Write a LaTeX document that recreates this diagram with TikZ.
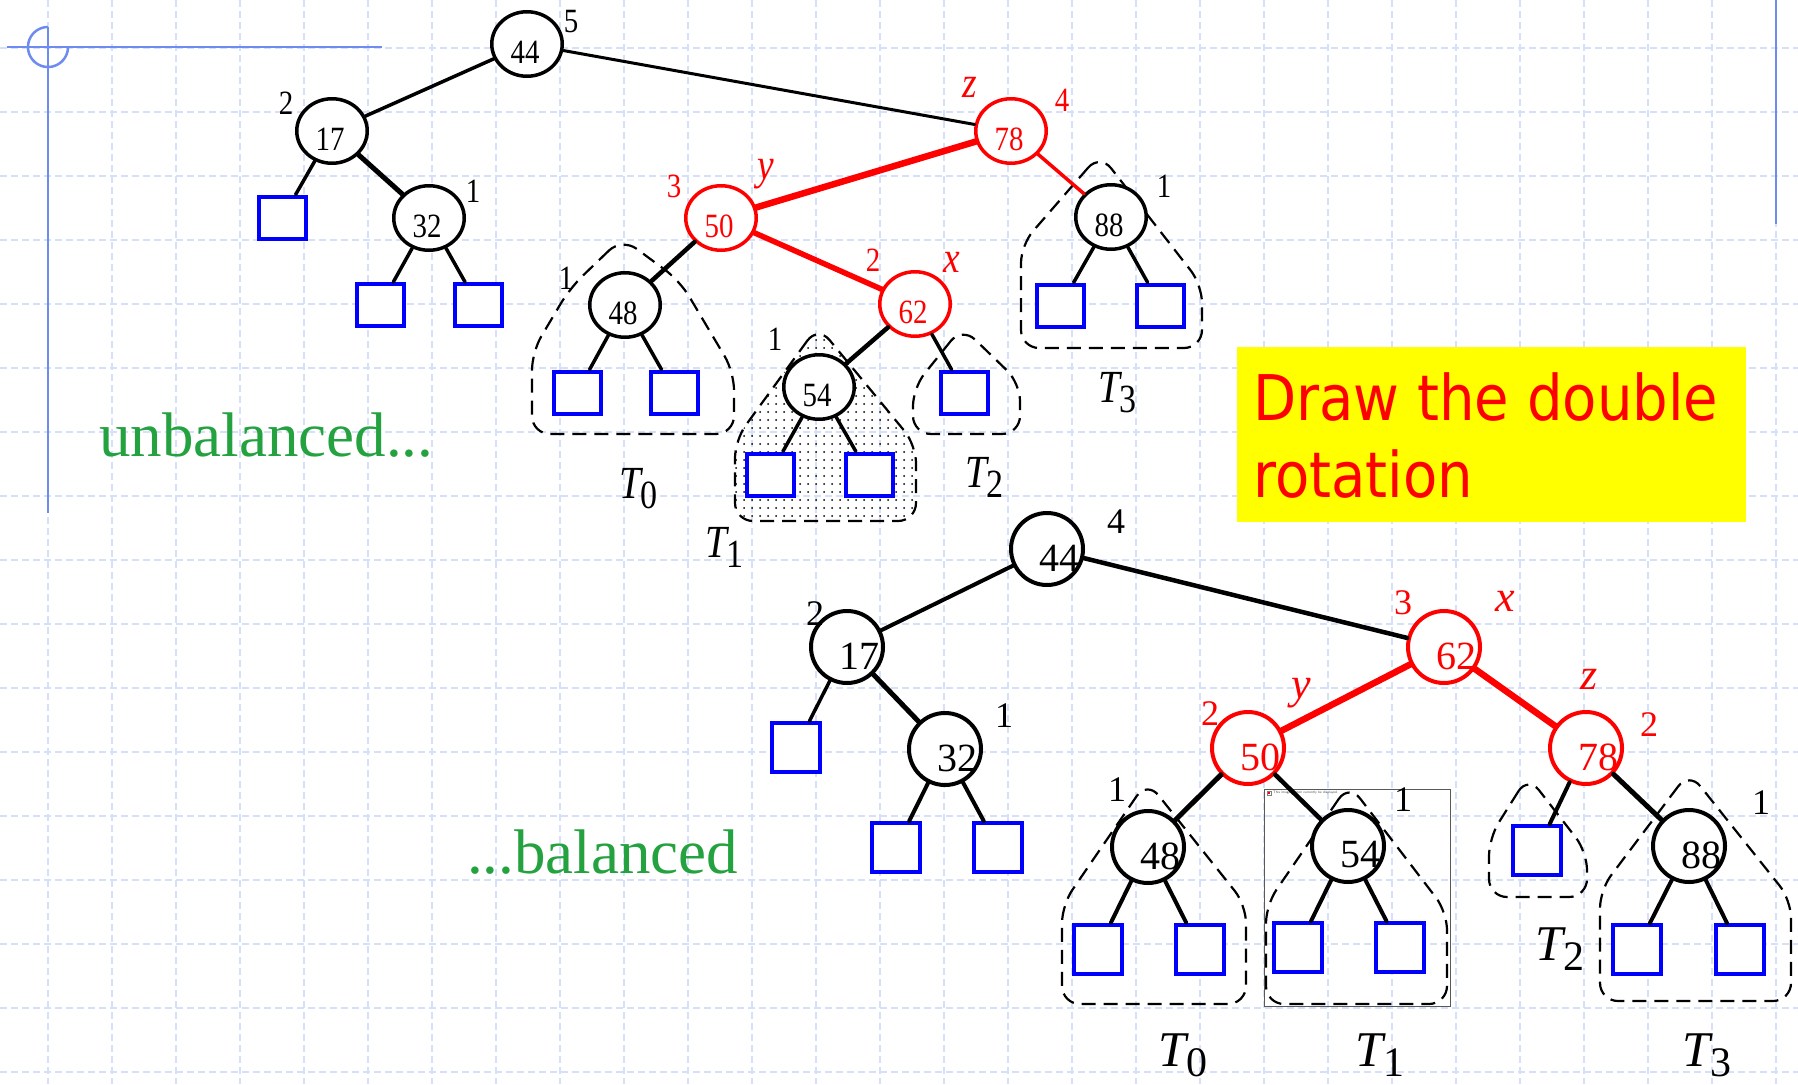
\documentclass[tikz,border=0pt]{standalone}
\usepackage{fontspec}
\setmainfont{Liberation Serif}
\newfontfamily\treefont{Liberation Serif}[FakeStretch=0.85]
\newfontfamily\boxfont{DejaVu Sans}[FakeStretch=0.89]
\usetikzlibrary{shapes.geometric,patterns.meta,calc}
\definecolor{gridblue}{RGB}{214,224,251}
\definecolor{decoblue}{RGB}{110,140,240}
\definecolor{txtgreen}{RGB}{36,162,64}
\definecolor{pred}{RGB}{255,0,0}
\definecolor{pblue}{RGB}{0,0,255}
\definecolor{pyellow}{RGB}{255,255,0}
\newcommand\tnode[5]{\node[tcirc,draw=#5] (#1) at (#2,#3) {};
  \node[tnum,text=#5] (#1t) at ($(#1)+(-2,8)$) {#4};}
\newcommand\bnode[5]{\node[bcirc,draw=#5] (#1) at (#2,#3) {};
  \node[bnum,text=#5] (#1t) at ($(#1)+(12,9)$) {#4};}
\begin{document}
\begin{tikzpicture}[x=1pt,y=-1pt,
  gridline/.style={draw=gridblue,line width=1.1pt,dash pattern=on 7pt off 4pt},
  deco/.style={draw=decoblue,line width=2.5pt},
  blob/.style={draw=black,line width=2.2pt,dash pattern=on 14pt off 8pt,rounded corners=18pt},
  tcirc/.style={ellipse,fill=white,line width=3.5pt,minimum width=70.5pt,minimum height=64.5pt,inner sep=0pt},
  bcirc/.style={circle,fill=white,line width=4pt,minimum size=72pt,inner sep=0pt},
  tsq/.style={rectangle,draw=pblue,fill=white,line width=4pt,minimum width=47pt,minimum height=42pt,inner sep=0pt},
  bsq/.style={rectangle,draw=pblue,fill=white,line width=4pt,minimum width=48pt,minimum height=49pt,inner sep=0pt},
  tnum/.style={inner sep=0pt,font=\treefont\fontsize{34pt}{34pt}\selectfont},
  bnum/.style={inner sep=0pt,font=\fontsize{40pt}{40pt}\selectfont},
  tlab/.style={inner sep=0pt,font=\treefont\fontsize{34pt}{34pt}\selectfont},
  tital/.style={inner sep=0pt,text=pred,font=\treefont\itshape\fontsize{44pt}{44pt}\selectfont},
  blab/.style={inner sep=0pt,font=\fontsize{36pt}{36pt}\selectfont},
  bital/.style={inner sep=0pt,text=pred,font=\itshape\fontsize{44pt}{44pt}\selectfont},
  tT/.style={anchor=base west,inner sep=0pt,font=\treefont\fontsize{46pt}{46pt}\selectfont},
  bT/.style={anchor=base west,inner sep=0pt,font=\fontsize{50pt}{50pt}\selectfont},
  greentext/.style={anchor=base west,inner sep=0pt,text=txtgreen,font=\fontsize{63pt}{63pt}\selectfont},
  boxtext/.style={anchor=base west,inner sep=0pt,text=pred,font=\boxfont\fontsize{63pt}{63pt}\selectfont},
  e/.style={line width=#1,line cap=round},
  re/.style={draw=pred,line width=#1,line cap=round}
]
\useasboundingbox (0,0) rectangle (1798,1084);
\fill[white] (0,0) rectangle (1798,1084);
% background grid
\foreach \i in {0,...,27} \draw[gridline] ({48+64*\i},0) -- ({48+64*\i},1084);
\foreach \j in {0,...,16} \draw[gridline] (0,{48+64*\j}) -- (1798,{48+64*\j});
% template decoration
\draw[deco] (7,47) -- (382,47);
\draw[deco] (48,27) -- (48,513);
\draw[deco] plot[domain=90:360,samples=60] ({48+20*cos(\x)},{47-20*sin(\x)});
\draw[deco] (1776,0) -- (1776,224);
% yellow box
\node[fill=pyellow,minimum width=509pt,minimum height=175pt,inner sep=0pt,anchor=north west] (ybox) at (1237,347) {};
\node[boxtext] (ytext1) at (1253,420) {Draw the double};
\node[boxtext] (ytext2) at (1253,497) {rotation};
% green texts
\node[greentext] (unb) at (99,456) {unbalanced...};
\node[greentext] (bal) at (467,873) {...balanced};
% subtree blobs, top
\draw[blob] (622,238) -- (570,288) -- (532,352) -- (532,434) -- (734,434) -- (734,372) -- (680,281) -- cycle;
\draw[blob,pattern={Dots[distance=8pt,radius=1pt]},pattern color=black] (818,326) -- (735,440) -- (735,521) -- (916,521) -- (916,445) -- cycle;
\draw[blob] (962,327) -- (913,388) -- (913,434) -- (1020,434) -- (1020,383) -- cycle;
\draw[blob] (1100,154) -- (1021,245) -- (1021,348) -- (1202,348) -- (1202,285) -- cycle;
% subtree blobs, bottom
\draw[blob] (1147,781) -- (1062,905) -- (1062,1004) -- (1246,1004) -- (1246,905) -- cycle;
\draw[blob] (1349,784) -- (1266,905) -- (1266,1004) -- (1447,1004) -- (1447,912) -- cycle;
\draw[blob] (1528,776) -- (1489,838) -- (1489,897) -- (1587,897) -- (1587,852) -- cycle;
\draw[blob] (1689,772) -- (1600,890) -- (1600,1001) -- (1791,1001) -- (1791,900) -- cycle;
% placeholder frame
\draw[draw=black!65,line width=0.9pt] (1264.5,789) rectangle (1450.5,1006.5);
\draw[draw=black!50,fill=white,line width=0.4pt] (1267,791) rectangle (1271,795);
\fill[pred] (1268,792) rectangle (1270,794);
\node[anchor=west,inner sep=0pt,font=\sffamily\fontsize{3.5pt}{3.5pt}\selectfont,text=black!70] (phtext) at (1273,793) {This image cannot currently be displayed.};
% ---------- top tree ----------
\tnode{t44}{527}{44}{44}{black}
\tnode{t17}{332}{131}{17}{black}
\tnode{t32}{429}{218}{32}{black}
\tnode{t78}{1011}{131}{78}{pred}
\tnode{t50}{721}{218}{50}{pred}
\tnode{t62}{915}{304}{62}{pred}
\tnode{t48}{625}{305}{48}{black}
\tnode{t54}{819}{387}{54}{black}
\tnode{t88}{1111}{217}{88}{black}
\node[tsq] (t17L) at (282.5,217.5) {};
\node[tsq] (t32L) at (380.5,305) {};
\node[tsq] (t32R) at (478,305) {};
\node[tsq] (t48L) at (577,392.5) {};
\node[tsq] (t48R) at (674.5,392.5) {};
\node[tsq] (t62R) at (964.4,392.5) {};
\node[tsq] (t54L) at (770,474.5) {};
\node[tsq] (t54R) at (869,474.5) {};
\node[tsq] (t88L) at (1060.5,305.5) {};
\node[tsq] (t88R) at (1160.5,305.5) {};
\draw[e=3.5pt] (t44) -- (t17);
\draw[e=3pt] (t44) -- (t78);
\draw[e=3.5pt] (t17) -- (t17L);
\draw[e=5pt] (t17) -- (t32);
\draw[e=3.5pt] (t32) -- (t32L);
\draw[e=3.5pt] (t32) -- (t32R);
\draw[re=6.5pt] (t78) -- (t50);
\draw[re=3.5pt] (t78) -- (t88);
\draw[e=4.5pt] (t50) -- (t48);
\draw[re=5.5pt] (t50) -- (t62);
\draw[e=4.5pt] (t62) -- (t54);
\draw[e=3.5pt] (t62) -- (t62R);
\draw[e=3.5pt] (t48) -- (t48L);
\draw[e=3.5pt] (t48) -- (t48R);
\draw[e=3.5pt] (t54) -- (t54L);
\draw[e=3.5pt] (t54) -- (t54R);
\draw[e=3.5pt] (t88) -- (t88L);
\draw[e=3.5pt] (t88) -- (t88R);
% top labels
\node[tlab] (tl5) at (571,22) {5};
\node[tlab] (tl17) at (286,103) {2};
\node[tlab] (tl32) at (473,191) {1};
\node[tlab] (tl48) at (566,278) {1};
\node[tlab] (tl54) at (775,339) {1};
\node[tlab] (tl88) at (1164,186) {1};
\node[tlab,text=pred] (tl78) at (1062,100) {4};
\node[tlab,text=pred] (tl50) at (674,186) {3};
\node[tlab,text=pred] (tl62) at (873,260) {2};
\node[tital] (tz) at (970,87) {z};
\node[tital] (ty) at (766,174) {y};
\node[tital] (tx) at (952,262) {x};
\node[tT] (tT0) at (619,498) {\itshape T\upshape\fontsize{40pt}{40pt}\selectfont\raisebox{-10pt}{0}};
\node[tT] (tT1) at (705,557) {\itshape T\upshape\fontsize{40pt}{40pt}\selectfont\raisebox{-10pt}{1}};
\node[tT] (tT2) at (965,487) {\itshape T\upshape\fontsize{40pt}{40pt}\selectfont\raisebox{-10pt}{2}};
\node[tT] (tT3) at (1098,402) {\itshape T\upshape\fontsize{40pt}{40pt}\selectfont\raisebox{-10pt}{3}};
% ---------- bottom tree ----------
\bnode{b44}{1047}{549}{44}{black}
\bnode{b17}{847}{647}{17}{black}
\bnode{b32}{945}{749}{32}{black}
\bnode{b62}{1444}{647}{62}{pred}
\bnode{b50}{1248}{748}{50}{pred}
\bnode{b78}{1586}{748}{78}{pred}
\bnode{b48}{1148}{847}{48}{black}
\bnode{b54}{1348}{846}{54}{black}
\bnode{b88}{1689}{846}{88}{black}
\node[bsq] (b17L) at (796,747.5) {};
\node[bsq] (b32L) at (896,847.5) {};
\node[bsq] (b32R) at (998,847.5) {};
\node[bsq] (b48L) at (1098,949) {};
\node[bsq] (b48R) at (1199.5,949) {};
\node[bsq] (b54L) at (1298,947.5) {};
\node[bsq] (b54R) at (1400,947.5) {};
\node[bsq] (b78L) at (1537,850.5) {};
\node[bsq] (b88L) at (1636.5,949.5) {};
\node[bsq] (b88R) at (1740,949.5) {};
\draw[e=4pt] (b44) -- (b17);
\draw[e=4.5pt] (b44) -- (b62);
\draw[e=3.5pt] (b17) -- (b17L);
\draw[e=5pt] (b17) -- (b32);
\draw[e=4pt] (b32) -- (b32L);
\draw[e=4pt] (b32) -- (b32R);
\draw[re=6.5pt] (b62) -- (b50);
\draw[re=6.5pt] (b62) -- (b78);
\draw[e=5pt] (b50) -- (b48);
\draw[e=4.5pt] (b50) -- (b54);
\draw[e=4pt] (b78) -- (b78L);
\draw[e=5pt] (b78) -- (b88);
\draw[e=4pt] (b48) -- (b48L);
\draw[e=4pt] (b48) -- (b48R);
\draw[e=4pt] (b54) -- (b54L);
\draw[e=4pt] (b54) -- (b54R);
\draw[e=4pt] (b88) -- (b88L);
\draw[e=4pt] (b88) -- (b88R);
% bottom labels
\node[blab] (bl44) at (1116,522) {4};
\node[blab] (bl17) at (815,614) {2};
\node[blab] (bl32) at (1004,716) {1};
\node[blab] (bl48) at (1117,790) {1};
\node[blab] (bl54) at (1403,800) {1};
\node[blab] (bl88) at (1761,803) {1};
\node[blab,text=pred] (bl62) at (1403,603) {3};
\node[blab,text=pred] (bl50) at (1210,714) {2};
\node[blab,text=pred] (bl78) at (1649,725) {2};
\node[bital] (bx) at (1505,601) {x};
\node[bital] (by) at (1301,693) {y};
\node[bital] (bz) at (1589,679) {z};
\node[bT] (bT0) at (1158,1066) {\itshape T\upshape\fontsize{42pt}{42pt}\selectfont\raisebox{-10pt}{0}};
\node[bT] (bT1) at (1355,1066) {\itshape T\upshape\fontsize{42pt}{42pt}\selectfont\raisebox{-10pt}{1}};
\node[bT] (bT2) at (1535,960) {\itshape T\upshape\fontsize{42pt}{42pt}\selectfont\raisebox{-10pt}{2}};
\node[bT] (bT3) at (1682,1066) {\itshape T\upshape\fontsize{42pt}{42pt}\selectfont\raisebox{-10pt}{3}};
\end{tikzpicture}
\end{document}
